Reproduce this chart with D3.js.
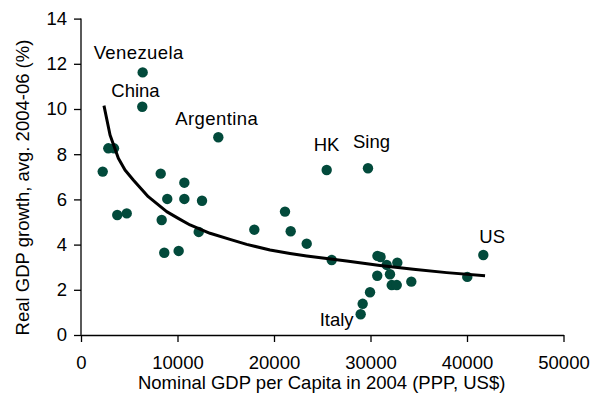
<!DOCTYPE html>
<html>
<head>
<meta charset="utf-8">
<script src="https://cdn.jsdelivr.net/npm/d3@7"></script>
<style>
  html, body { margin: 0; padding: 0; background: #fff; }
  svg { display: block; font-family: "Liberation Sans", Arial, sans-serif; }
</style>
</head>
<body>
<svg id="chart" width="591" height="396"></svg>
<script>
// ---- Data ----
const gdpPerCapita = [6390, 6350, 14230, 2830, 3420, 2250, 8260, 10710, 8940, 10710, 12540, 3760, 4740, 8360, 12200, 8630, 10120, 17960, 21140, 21730, 23390, 25980, 25460, 29740, 30720, 31040, 31680, 32780, 30700, 32020, 32200, 32720, 34230, 29950, 29190, 28980, 40030, 41690];
const gdpGrowth    = [11.62, 10.10, 8.75, 8.26, 8.26, 7.23, 7.14, 6.74, 6.02, 6.02, 5.94, 5.31, 5.38, 5.09, 4.56, 3.64, 3.72, 4.66, 5.46, 4.59, 4.04, 3.32, 7.30, 7.38, 3.50, 3.45, 3.10, 3.20, 2.62, 2.69, 2.21, 2.21, 2.36, 1.89, 1.38, 0.92, 2.57, 3.54];
const countryNames = ["Venezuela", "China", "Argentina", "", "", "", "", "", "", "", "", "", "", "", "", "", "", "", "", "", "", "", "HK", "Sing", "", "", "", "", "", "", "", "", "", "", "", "Italy", "", "US"];

const trendX = [2380, 3010, 3870, 4560, 5420, 6970, 8880, 10080, 11300, 13370, 15440, 17170, 19590, 21660, 23390, 27530, 30980, 34440, 37890, 41870];
const trendY = [10.15, 8.85, 7.82, 7.30, 6.86, 6.12, 5.46, 5.16, 4.87, 4.50, 4.23, 4.01, 3.76, 3.61, 3.50, 3.27, 3.08, 2.91, 2.76, 2.62];

const xTicks = [0, 10000, 20000, 30000, 40000, 50000];
const yTicks = [0, 2, 4, 6, 8, 10, 12, 14];

const xTitle = "Nominal GDP per Capita in 2004 (PPP, US$)";
const yTitle = "Real GDP growth, avg. 2004-06 (%)";

// ---- Layout ----
const svg = d3.select("#chart");
const x = d3.scaleLinear().domain([0, 50000]).range([81, 563.5]);
const y = d3.scaleLinear().domain([0, 14]).range([335, 18.6]);
const dotColor = "#024a3b";
const fontSize = 18.5;

// label offsets (text anchor start relative to point)
const labelOffsets = {
  "Venezuela": [-49, -13],
  "China": [-31, -10],
  "Argentina": [-43, -12],
  "HK": [-13, -19],
  "Sing": [-15, -20],
  "US": [-4, -12],
  "Italy": [-41, 12]
};

// Axes
const xAxis = d3.axisBottom(x).tickValues(xTicks).tickFormat(d3.format("d")).tickSize(7).tickSizeOuter(0).tickPadding(14);
const yAxis = d3.axisLeft(y).tickValues(yTicks).tickFormat(d3.format("d")).tickSize(7).tickSizeOuter(0).tickPadding(7);

const gx = svg.append("g").attr("transform", `translate(0,${y(0)})`).call(xAxis);
const gy = svg.append("g").attr("transform", `translate(${x(0)},0)`).call(yAxis);
[gx, gy].forEach(g => {
  g.select(".domain").attr("stroke", "#000").attr("stroke-width", 1.3);
  g.selectAll(".tick line").attr("stroke", "#000").attr("stroke-width", 1.3);
  g.selectAll(".tick text").attr("fill", "#000").attr("font-size", fontSize)
    .attr("font-family", "'Liberation Sans', Arial, sans-serif");
});
gy.select(".domain").attr("d", `M0,${y(14)}V${y(0)}`);

// Points
const pts = gdpPerCapita.map((v, i) => ({ x: v, y: gdpGrowth[i], name: countryNames[i] }));
svg.append("g").selectAll("circle").data(pts).join("circle")
  .attr("cx", d => x(d.x)).attr("cy", d => y(d.y)).attr("r", 5.2)
  .attr("fill", dotColor);

// Trend line
const trend = trendX.map((v, i) => [v, trendY[i]]);
svg.append("path").datum(trend)
  .attr("d", d3.line().x(d => x(d[0])).y(d => y(d[1])))
  .attr("fill", "none").attr("stroke", "#000").attr("stroke-width", 3)
  .attr("stroke-linejoin", "round").attr("stroke-linecap", "butt");

// Labels
svg.append("g").selectAll("text").data(pts.filter(d => d.name)).join("text")
  .attr("x", d => x(d.x) + labelOffsets[d.name][0])
  .attr("y", d => y(d.y) + labelOffsets[d.name][1])
  .attr("font-size", fontSize).attr("fill", "#000")
  .attr("letter-spacing", d => (d.name === "Venezuela" || d.name === "Argentina") ? 0.4 : 0)
  .text(d => d.name);

// Axis titles
svg.append("text").attr("x", 321.7).attr("y", 389).attr("text-anchor", "middle")
  .attr("font-size", fontSize).attr("fill", "#000").text(xTitle);
svg.append("text").attr("transform", "translate(28.5,187.5) rotate(-90)").attr("text-anchor", "middle")
  .attr("font-size", fontSize).attr("fill", "#000").text(yTitle);
</script>
</body>
</html>
